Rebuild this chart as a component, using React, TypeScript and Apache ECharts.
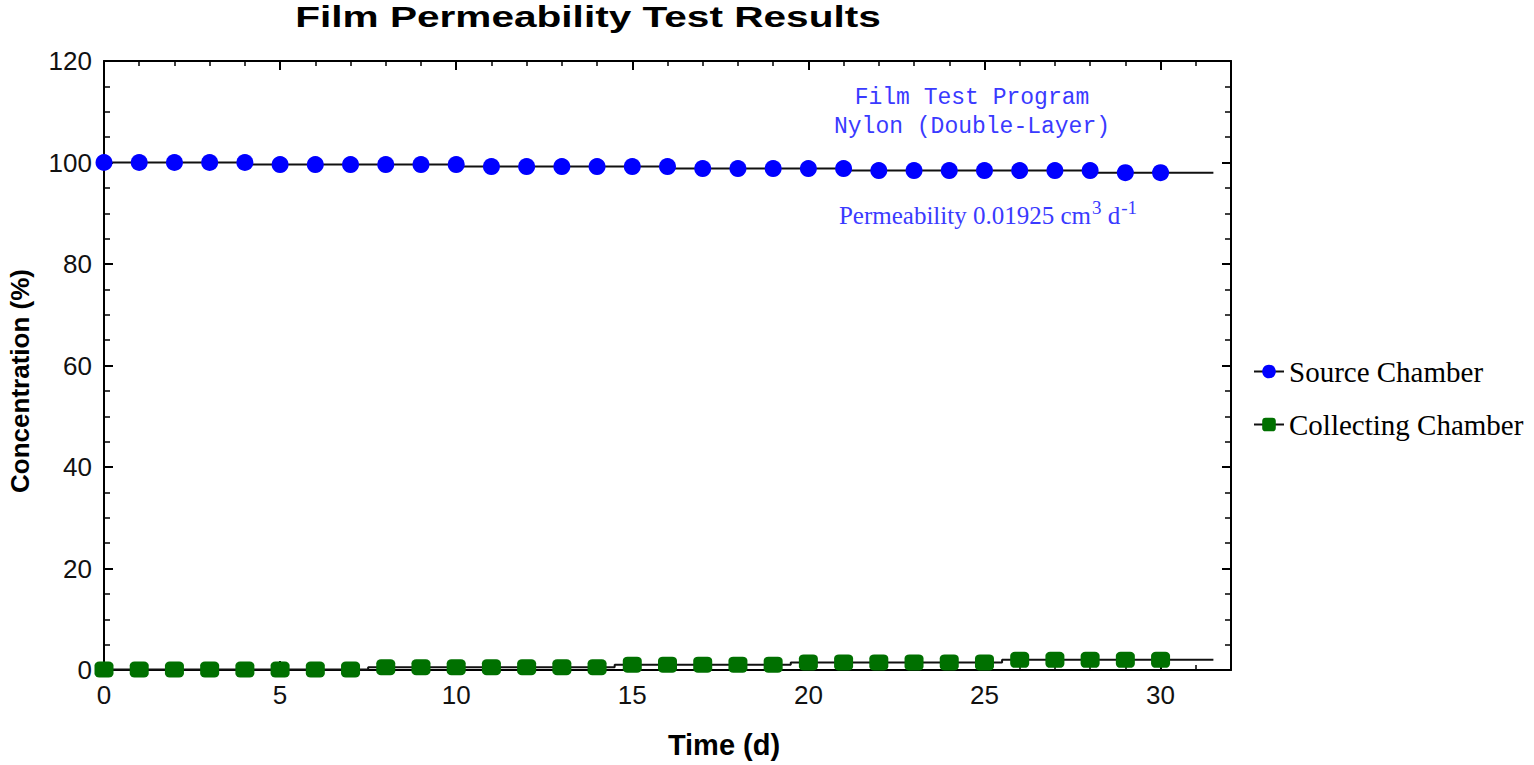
import React, { useEffect, useRef } from "react";
import * as echarts from "echarts";

const days = [0, 1, 2, 3, 4, 5, 6, 7, 8, 9, 10, 11, 12, 13, 14, 15, 16, 17, 18, 19, 20, 21, 22, 23, 24, 25, 26, 27, 28, 29, 30];
const sourceValues = [
  100.0, 100.0, 100.0, 100.0, 100.0,
  99.6, 99.6, 99.6, 99.6, 99.6, 99.6,
  99.2, 99.2, 99.2, 99.2, 99.2, 99.2,
  98.8, 98.8, 98.8, 98.8, 98.8,
  98.4, 98.4, 98.4, 98.4, 98.4, 98.4, 98.4,
  98.0, 98.0,
];
const collectingValues = [
  0.1, 0.1, 0.1, 0.1, 0.1, 0.1, 0.1, 0.1,
  0.55, 0.55, 0.55, 0.55, 0.55, 0.55, 0.55,
  1.05, 1.05, 1.05, 1.05, 1.05,
  1.5, 1.5, 1.5, 1.5, 1.5, 1.5,
  2.0, 2.0, 2.0, 2.0, 2.0,
];
const lineEndDay = 31.5;
const sourceEnd = 98.0;
const collectingEnd = 2.0;
const yTicks = [0, 20, 40, 60, 80, 100, 120];
const xTicks = [0, 5, 10, 15, 20, 25, 30];

export default function App() {
  const ref = useRef<HTMLDivElement>(null);
  useEffect(() => {
    if (!ref.current) return;
    const chart = echarts.init(ref.current, undefined, { renderer: "svg" });
    const srcData: any[] = days.map((d, i) => [d, sourceValues[i]]);
    srcData.push({ value: [lineEndDay, sourceEnd], symbol: "none" });
    const colData: any[] = days.map((d, i) => [d, collectingValues[i]]);
    colData.push({ value: [lineEndDay, collectingEnd], symbol: "none" });

    const axisLine = { show: true, onZero: false, lineStyle: { color: "#000", width: 2 } };
    const labelStyle = { fontFamily: "Liberation Sans", fontSize: 26, color: "#111" };
    const tick = { show: true, inside: true, length: 9, lineStyle: { color: "#000", width: 2 } };

    chart.setOption({
      animation: false,
      backgroundColor: "#fff",
      grid: { left: 104, top: 61, right: 303, bottom: 95, containLabel: false, outerBoundsMode: "none" },
      xAxis: [
        {
          type: "value",
          min: 0,
          max: 32,
          interval: 5,
          position: "bottom",
          axisLine,
          axisTick: tick,
          minorTick: { show: true, splitNumber: 5, length: 5, lineStyle: { color: "#000", width: 1.5 } },
          splitLine: { show: false },
          axisLabel: {
            ...labelStyle,
            margin: 12,
            showMaxLabel: false,
            formatter: (v: number) => (xTicks.includes(v) ? String(v) : ""),
          },
        },
        {
          type: "value",
          min: 0,
          max: 32,
          interval: 5,
          position: "top",
          axisLine,
          axisTick: tick,
          minorTick: { show: true, splitNumber: 5, length: 5, lineStyle: { color: "#000", width: 1.5 } },
          splitLine: { show: false },
          axisLabel: { show: false },
        },
      ],
      yAxis: [
        {
          type: "value",
          min: 0,
          max: 120,
          interval: 20,
          position: "left",
          axisLine,
          axisTick: tick,
          minorTick: { show: true, splitNumber: 4, length: 6, lineStyle: { color: "#000", width: 1.5 } },
          splitLine: { show: false },
          axisLabel: {
            ...labelStyle,
            margin: 12,
            formatter: (v: number) => (yTicks.includes(v) ? String(v) : ""),
          },
        },
        {
          type: "value",
          min: 0,
          max: 120,
          interval: 20,
          position: "right",
          axisLine,
          axisTick: tick,
          minorTick: { show: true, splitNumber: 4, length: 6, lineStyle: { color: "#000", width: 1.5 } },
          splitLine: { show: false },
          axisLabel: { show: false },
        },
      ],
      legend: {
        orient: "vertical",
        left: 1248,
        top: 352,
        itemGap: 24,
        itemWidth: 30,
        itemHeight: 17,
        textStyle: { fontFamily: "Liberation Serif", fontSize: 29, color: "#000" },
        data: ["Source Chamber", "Collecting Chamber"],
      },
      series: [
        {
          name: "Source Chamber",
          type: "line",
          step: "start",
          data: srcData,
          symbol: "circle",
          symbolSize: 17,
          itemStyle: { color: "#0000ff" },
          lineStyle: { color: "#111", width: 2 },
          clip: true,
        },
        {
          name: "Collecting Chamber",
          type: "line",
          step: "middle",
          data: colData,
          symbol: "roundRect",
          symbolSize: [19, 16],
          itemStyle: { color: "#007000" },
          lineStyle: { color: "#111", width: 2 },
          clip: true,
        },
      ],
      graphic: [
        {
          type: "text",
          x: 588,
          y: 2,
          scaleX: 1.4,
          style: {
            text: "Film Permeability Test Results",
            fontFamily: "Liberation Sans",
            fontSize: 29,
            fontWeight: "bold",
            fill: "#000",
            align: "center",
          },
        },
        {
          type: "text",
          x: 972,
          y: 83,
          style: {
            text: "Film Test Program\nNylon (Double-Layer)",
            fontFamily: "Liberation Mono",
            fontSize: 23,
            lineHeight: 29,
            fill: "#3a3aff",
            align: "center",
          },
        },
        {
          type: "text",
          x: 988,
          y: 198,
          style: {
            text: "{n|Permeability 0.01925 cm}{s|3}{n| d}{s|-1}",
            align: "center",
            rich: {
              n: { fontFamily: "Liberation Serif", fontSize: 25, fill: "#3a3aff", lineHeight: 30, verticalAlign: "bottom" },
              s: { fontFamily: "Liberation Serif", fontSize: 19, fill: "#3a3aff", lineHeight: 30, verticalAlign: "top", padding: [0, 0, 8, 1] },
            },
          },
        },
        {
          type: "text",
          x: 20,
          y: 381,
          rotation: Math.PI / 2,
          style: {
            text: "Concentration (%)",
            fontFamily: "Liberation Sans",
            fontSize: 26,
            fontWeight: "bold",
            fill: "#000",
            align: "center",
            verticalAlign: "middle",
          },
        },
        {
          type: "text",
          x: 724,
          y: 745,
          style: {
            text: "Time (d)",
            fontFamily: "Liberation Sans",
            fontSize: 29,
            fontWeight: "bold",
            fill: "#000",
            align: "center",
            verticalAlign: "middle",
          },
        },
      ],
    });
    return () => chart.dispose();
  }, []);
  return (
    <div
      ref={ref}
      style={{ position: "fixed", left: 0, top: 0, width: 1534, height: 765, background: "#fff" }}
    />
  );
}
